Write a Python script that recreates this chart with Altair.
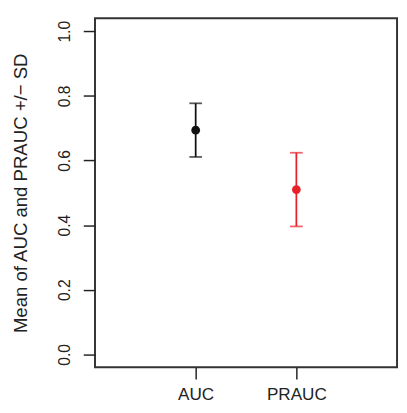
import altair as alt
import pandas as pd

categories = ["AUC", "PRAUC"]
means = [0.694, 0.510]
sds = [0.083, 0.114]
colors = ["#111111", "#e8202a"]

df = pd.DataFrame({
    "category": categories,
    "mean": means,
    "sd": sds,
})
df["lower"] = df["mean"] - df["sd"]
df["upper"] = df["mean"] + df["sd"]

FONT = "Liberation Sans"

x_enc = alt.X(
    "category:N",
    scale=alt.Scale(type="point", domain=categories, padding=1.126, align=0.5),
    axis=alt.Axis(
        title=None, labelAngle=0, domain=False, grid=False,
        tickSize=12, tickWidth=1.5, tickColor="#222222",
        labelFont=FONT, labelFontSize=17.5, labelColor="#222222", labelPadding=7,
    ),
)
y_scale = alt.Scale(domain=[-0.04, 1.04], nice=False, zero=False)
y_enc = alt.Y(
    "mean:Q",
    scale=y_scale,
    axis=alt.Axis(
        title="Mean of AUC and PRAUC +/\u2212 SD",
        values=[0, 0.2, 0.4, 0.6, 0.8, 1.0], format=".1f",
        domain=False, grid=False,
        tickSize=12, tickWidth=1.5, tickColor="#222222",
        labelAngle=-90, labelAlign="center", labelBaseline="bottom",
        labelFont=FONT, labelFontSize=16, labelColor="#222222", labelPadding=11,
        titleFont=FONT, titleFontSize=19, titleFontWeight="normal",
        titleColor="#222222", titlePadding=27,
    ),
)
color_enc = alt.Color("category:N", scale=alt.Scale(domain=categories, range=colors), legend=None)

base = alt.Chart(df)

bars = base.mark_rule(strokeWidth=1.8).encode(
    x=x_enc, y=alt.Y("lower:Q", scale=y_scale), y2="upper:Q", color=color_enc
)
cap_lo = base.mark_tick(orient="horizontal", size=13, thickness=1.8).encode(
    x=x_enc, y=alt.Y("lower:Q", scale=y_scale), color=color_enc
)
cap_hi = base.mark_tick(orient="horizontal", size=13, thickness=1.8).encode(
    x=x_enc, y=alt.Y("upper:Q", scale=y_scale), color=color_enc
)
pts = base.mark_circle(size=80, opacity=1).encode(
    x=x_enc, y=y_enc, color=color_enc
)

chart = alt.layer(bars, cap_lo, cap_hi, pts).properties(
    width=309, height=357,
    background="white",
    autosize=alt.AutoSizeParams(type="none"),
    padding={"left": 89, "top": 6, "right": 2, "bottom": 34},
).configure_view(
    stroke="#333333", strokeWidth=2
)

chart.save("out.html", embed_options={"renderer": "svg", "actions": False})
